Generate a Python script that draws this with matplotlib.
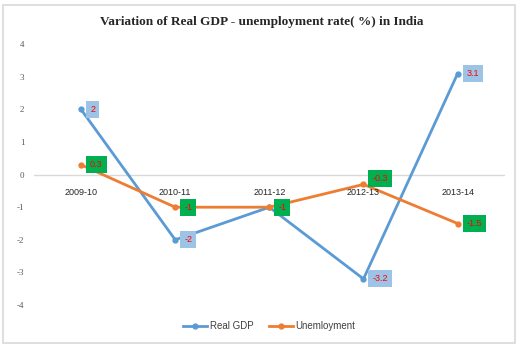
import matplotlib
matplotlib.use("Agg")
import matplotlib.pyplot as plt
from matplotlib.patches import Rectangle

categories = ["2009-10", "2010-11", "2011-12", "2012-13", "2013-14"]
real_gdp = [2, -2, -1, -3.2, 3.1]
unemployment = [0.3, -1, -1, -0.3, -1.5]
gdp_labels = ["2", "-2", "-1", "-3.2", "3.1"]
unemp_labels = ["0.3", "-1", "-1", "-0.3", "-1.5"]
yticks = [-4, -3, -2, -1, 0, 1, 2, 3, 4]

blue = "#5b9bd5"
orange = "#ed7d31"

fig = plt.figure(figsize=(5.23, 3.5), dpi=100)
fig.patches.append(Rectangle((0.006, 0.02), 0.979, 0.965, transform=fig.transFigure,
                             fill=False, edgecolor="#d9d9d9", linewidth=1.2))
ax = fig.add_axes([0.065, 0.1286, 0.9, 0.745])
x = list(range(len(categories)))
ax.plot(x, real_gdp, color=blue, lw=2.0, marker="o", ms=3.5, label="Real GDP", zorder=3)
ax.plot(x, unemployment, color=orange, lw=2.0, marker="o", ms=3.5, label="Unemloyment", zorder=3)
ax.set_xlim(-0.5, 4.5)
ax.set_ylim(-4, 4)
ax.axhline(0, color="#d9d9d9", lw=1, zorder=1)
for s in ax.spines.values():
    s.set_visible(False)
ax.set_yticks(yticks)
ax.set_yticklabels([str(v) for v in yticks], fontsize=6.5, color="#595959", family="Liberation Serif")
ax.tick_params(axis="y", length=0, pad=7)
ax.set_xticks([])
for xi, c in zip(x, categories):
    ax.annotate(c, (xi, 0), xytext=(0, -13), textcoords="offset points",
                ha="center", va="center", fontsize=6.5, color="#262626", family="Liberation Sans")

for xi, v, t in zip(x, real_gdp, gdp_labels):
    ax.annotate(t, (xi, v), xytext=(6.5, 0), textcoords="offset points", ha="left", va="center",
                fontsize=6.5, color="red", family="Liberation Sans", zorder=5,
                bbox=dict(boxstyle="square,pad=0.45", fc="#9dc3e6", ec="none"))
offs = [(6.5, 0), (6.5, 0), (6.5, 0), (6.5, 4), (6.5, 0)]
for xi, v, t, o in zip(x, unemployment, unemp_labels, offs):
    ax.annotate(t, (xi, v), xytext=o, textcoords="offset points", ha="left", va="center",
                fontsize=6.5, color="red", family="Liberation Sans", zorder=5,
                bbox=dict(boxstyle="square,pad=0.45", fc="#00b050", ec="none"))

fig.text(0.5, 0.938, "Variation of Real GDP - unemployment rate( %) in India", ha="center", va="center",
         fontsize=9.5, fontweight="bold", family="Liberation Serif", color="#262626")
leg = fig.legend(loc="center", bbox_to_anchor=(0.515, 0.068), ncol=2, frameon=False,
                 prop={"family": "Liberation Sans", "size": 7}, handlelength=2.5, columnspacing=1.5,
                 handletextpad=0.3)
for t in leg.get_texts():
    t.set_color("#404040")
fig.savefig("out.png", dpi=100)
